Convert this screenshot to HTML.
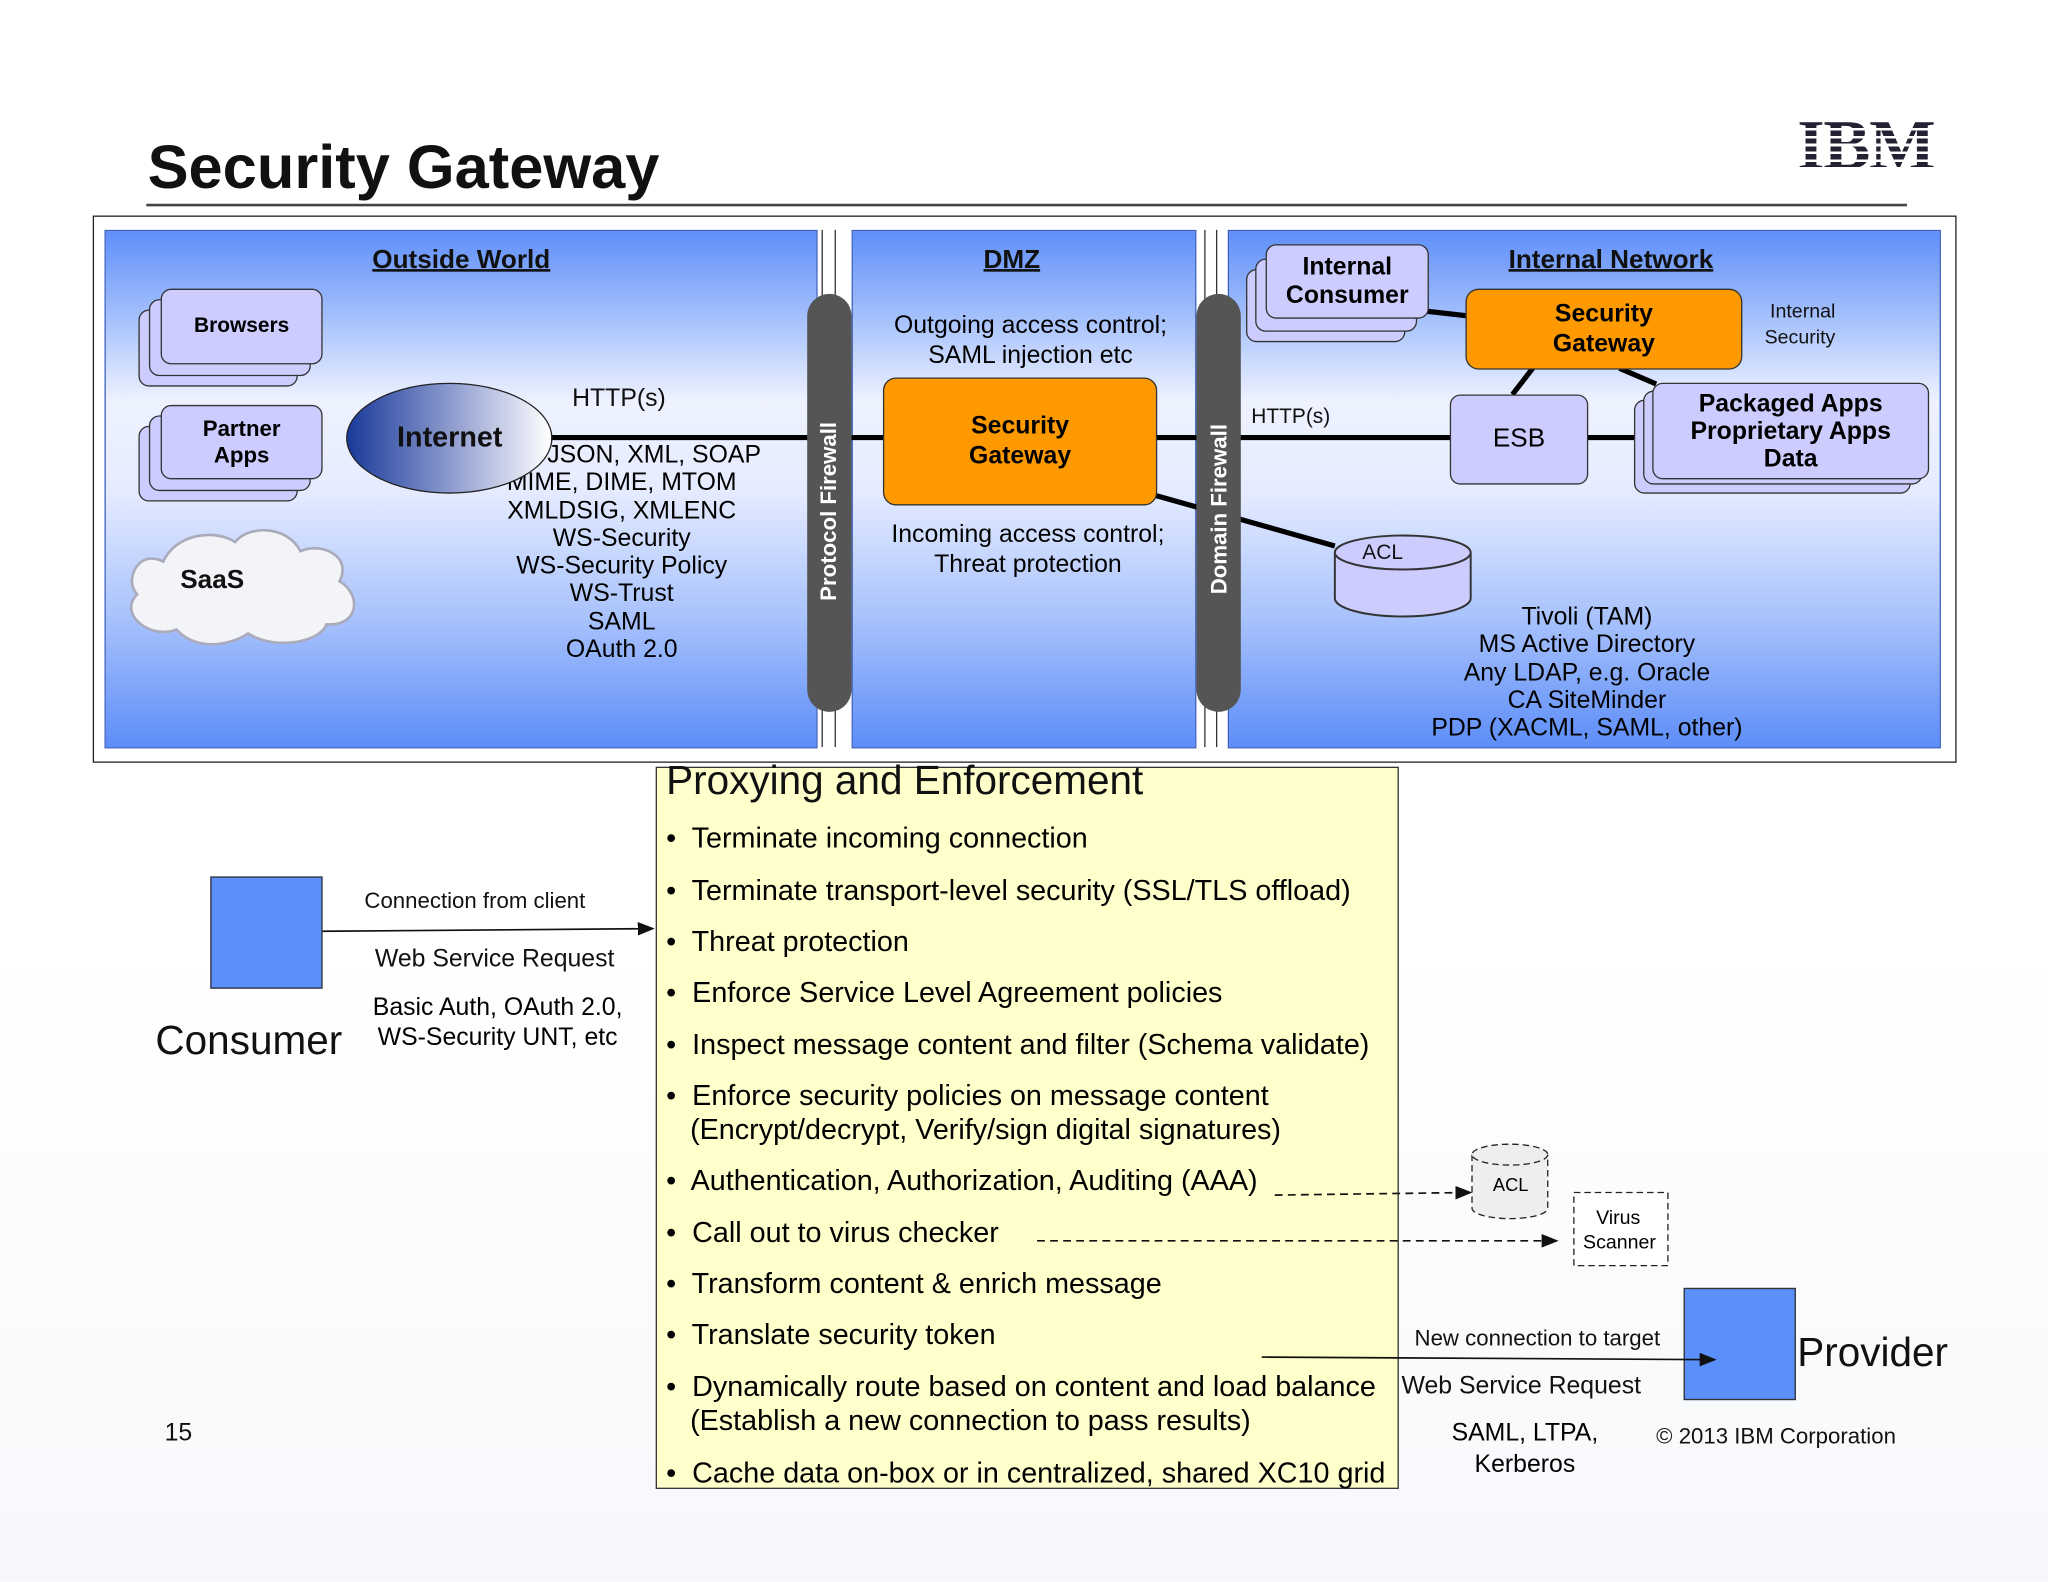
<!DOCTYPE html>
<html><head><meta charset="utf-8"><style>
html,body{margin:0;padding:0;}
body{width:2048px;height:1582px;overflow:hidden;background:#fff;font-family:"Liberation Sans",sans-serif;}
#s{position:absolute;left:0;top:0;width:1568px;height:1211px;transform:scale(1.30612);transform-origin:0 0;background:linear-gradient(180deg,#fff 0%,#fff 60%,#f7f8fb 100%);}
.a{position:absolute;}
.t{position:absolute;white-space:nowrap;color:#111;}
.panel{position:absolute;background:linear-gradient(180deg,#5f8ff9 0%,#aac4fc 18%,#eef2ff 33%,#e6ecff 50%,#a8c2fc 75%,#5d8df8 100%);border:1px solid #3a5fc0;}
.box{position:absolute;background:#ccccff;border:1.5px solid #333;border-radius:8px;}
.or{position:absolute;background:#ff9900;border:1.5px solid #333;border-radius:10px;font-weight:bold;text-align:center;font-size:19px;line-height:23px;display:flex;align-items:center;justify-content:center;}
.fw{position:absolute;background:#555;border-radius:17px;width:34px;}
.fwt{position:absolute;color:#fff;font-weight:bold;font-size:17px;white-space:nowrap;transform:rotate(-90deg);transform-origin:0 0;}
.u{text-decoration:underline;font-weight:bold;font-size:20px;}
.b{font-size:22px;line-height:26px;}
</style></head><body><div id="s">
<div class="t" style="left:113px;top:100px;font-size:47px;font-weight:bold;">Security Gateway</div>
<div class="a" style="left:112px;top:156px;width:1348px;height:1.5px;background:#444;"></div>
<div class="t" style="left:1376px;top:80px;font-size:54px;font-weight:bold;font-family:'Liberation Serif',serif;color:#223;letter-spacing:-1px;">IBM</div>
<div class="a" style="left:1374px;top:94px;width:108px;height:40px;background:repeating-linear-gradient(180deg,transparent 0 4px,#fff 4px 6px);"></div>

<div class="a" style="left:71px;top:165px;width:1425px;height:417px;border:1.5px solid #222;"></div>
<div class="panel" style="left:80px;top:176px;width:544px;height:395px;"></div>
<div class="panel" style="left:652px;top:176px;width:262px;height:395px;"></div>
<div class="panel" style="left:940px;top:176px;width:544px;height:395px;"></div>
<div class="a" style="left:629px;top:176px;width:1px;height:396px;background:#333;"></div>
<div class="a" style="left:639px;top:176px;width:1px;height:396px;background:#333;"></div>
<div class="a" style="left:922px;top:176px;width:1px;height:396px;background:#333;"></div>
<div class="a" style="left:931px;top:176px;width:1px;height:396px;background:#333;"></div>

<svg class="a" style="left:0;top:0" width="1568" height="1211">
<line x1="420" y1="335" x2="1260" y2="335" stroke="#000" stroke-width="4"/>
<line x1="880" y1="378" x2="1022" y2="418" stroke="#000" stroke-width="4"/>
<line x1="1090" y1="238" x2="1125" y2="242" stroke="#000" stroke-width="4"/>
<line x1="1175" y1="280" x2="1158" y2="302" stroke="#000" stroke-width="4"/>
<line x1="1240" y1="282" x2="1268" y2="294" stroke="#000" stroke-width="4"/>
</svg>

<div class="t u" style="left:285px;top:188px;">Outside World</div>
<div class="t u" style="left:753px;top:188px;">DMZ</div>
<div class="t u" style="left:1155px;top:188px;">Internal Network</div>

<div class="box" style="left:106px;top:237px;width:120px;height:57px;"></div>
<div class="box" style="left:114px;top:229px;width:122px;height:57px;"></div>
<div class="box" style="left:123px;top:221px;width:122px;height:56px;font-weight:bold;font-size:16px;display:flex;align-items:center;justify-content:center;">Browsers</div>
<div class="box" style="left:106px;top:326px;width:120px;height:56px;"></div>
<div class="box" style="left:114px;top:318px;width:122px;height:56px;"></div>
<div class="box" style="left:123px;top:310px;width:122px;height:55px;font-weight:bold;font-size:17px;line-height:20px;text-align:center;display:flex;align-items:center;justify-content:center;">Partner<br>Apps</div>

<svg class="a" style="left:95px;top:400px" width="185" height="100"><path d="M30 30 C10 20 0 45 10 55 C-5 70 20 90 40 82 C55 98 80 95 95 85 C115 98 150 92 155 78 C180 80 182 55 165 45 C175 25 150 15 135 22 C125 2 95 2 85 15 C70 5 40 8 30 30Z" fill="#f2f4f8" stroke="#aab" stroke-width="2"/></svg>
<div class="t" style="left:138px;top:433px;font-weight:bold;font-size:20px;">SaaS</div>

<div class="t" style="left:438px;top:295px;font-size:19px;">HTTP(s)</div>
<div class="a" style="left:356px;top:338px;width:240px;text-align:center;font-size:19px;line-height:21.3px;">XML, JSON, XML, SOAP<br>MIME, DIME, MTOM<br>XMLDSIG, XMLENC<br>WS-Security<br>WS-Security Policy<br>WS-Trust<br>SAML<br>OAuth 2.0</div>
<div class="a" style="left:265px;top:293px;width:156px;height:83px;border-radius:50%;border:1.5px solid #222;background:linear-gradient(90deg,#1a3a9a 0%,#8090c8 45%,#fff 100%);"></div>
<div class="t" style="left:304px;top:322px;font-weight:bold;font-size:22px;">Internet</div>

<div class="fw" style="left:618px;top:225px;height:320px;"></div>
<div class="fwt" style="left:625px;top:460px;">Protocol Firewall</div>
<div class="fw" style="left:916px;top:225px;height:320px;"></div>
<div class="fwt" style="left:924px;top:455px;">Domain Firewall</div>

<div class="a" style="left:660px;top:238px;width:258px;text-align:center;font-size:19px;line-height:23px;">Outgoing access control;<br>SAML injection etc</div>
<div class="or" style="left:676px;top:289px;width:208px;height:96px;">Security<br>Gateway</div>
<div class="a" style="left:660px;top:398px;width:254px;text-align:center;font-size:19px;line-height:23px;">Incoming access control;<br>Threat protection</div>

<div class="t" style="left:958px;top:311px;font-size:16px;">HTTP(s)</div>
<div class="box" style="left:954px;top:206px;width:120px;height:54px;"></div>
<div class="box" style="left:961px;top:198px;width:122px;height:54px;"></div>
<div class="box" style="left:969px;top:187px;width:123px;height:55px;font-weight:bold;font-size:19px;line-height:22px;text-align:center;display:flex;align-items:center;justify-content:center;">Internal<br>Consumer</div>
<div class="or" style="left:1122px;top:221px;width:210px;height:60px;">Security<br>Gateway</div>
<div class="t" style="left:1351px;top:229px;font-size:15px;line-height:20px;">&nbsp;Internal<br>Security</div>
<div class="box" style="left:1110px;top:302px;width:104px;height:67px;font-size:20px;display:flex;align-items:center;justify-content:center;">ESB</div>
<div class="box" style="left:1251px;top:306px;width:210px;height:70px;"></div>
<div class="box" style="left:1258px;top:299px;width:212px;height:70px;"></div>
<div class="box" style="left:1265px;top:293px;width:210px;height:72px;font-weight:bold;font-size:19px;line-height:21px;text-align:center;display:flex;align-items:center;justify-content:center;">Packaged Apps<br>Proprietary Apps<br>Data</div>

<svg class="a" style="left:1020px;top:408px" width="110" height="70"><path d="M2 15 V50 A52 14 0 0 0 106 50 V15" fill="#ccccff" stroke="#333" stroke-width="1.5"/><ellipse cx="54" cy="15" rx="52" ry="13" fill="#ccccff" stroke="#333" stroke-width="1.5"/></svg>
<div class="t" style="left:1043px;top:415px;font-size:16px;">ACL</div>
<div class="a" style="left:1085px;top:462px;width:260px;text-align:center;font-size:19px;line-height:21.3px;">Tivoli (TAM)<br>MS Active Directory<br>Any LDAP, e.g. Oracle<br>CA SiteMinder<br>PDP (XACML, SAML, other)</div>

<div class="a" style="left:502px;top:587px;width:567px;height:551px;background:#ffffcc;border:1.5px solid #333;"></div>
<div class="t" style="left:510px;top:580px;font-size:31px;">Proxying and Enforcement</div>
<div class="a b" style="left:510px;top:629px;width:560px;">
<div style="position:absolute;top:0">•&nbsp; Terminate incoming connection</div>
<div style="position:absolute;top:40px">•&nbsp; Terminate transport-level security (SSL/TLS offload)</div>
<div style="position:absolute;top:79px">•&nbsp; Threat protection</div>
<div style="position:absolute;top:118px">•&nbsp; Enforce Service Level Agreement policies</div>
<div style="position:absolute;top:158px">•&nbsp; Inspect message content and filter (Schema validate)</div>
<div style="position:absolute;top:197px">•&nbsp; Enforce security policies on message content<br>&nbsp;&nbsp;&nbsp;(Encrypt/decrypt, Verify/sign digital signatures)</div>
<div style="position:absolute;top:262px">•&nbsp; Authentication, Authorization, Auditing (AAA)</div>
<div style="position:absolute;top:302px">•&nbsp; Call out to virus checker</div>
<div style="position:absolute;top:341px">•&nbsp; Transform content &amp; enrich message</div>
<div style="position:absolute;top:380px">•&nbsp; Translate security token</div>
<div style="position:absolute;top:420px">•&nbsp; Dynamically route based on content and load balance<br>&nbsp;&nbsp;&nbsp;(Establish a new connection to pass results)</div>
<div style="position:absolute;top:486px">•&nbsp; Cache data on-box or in centralized, shared XC10 grid</div>
</div>

<div class="a" style="left:161px;top:671px;width:84px;height:84px;background:#5b8ff9;border:1.5px solid #333;"></div>
<div class="t" style="left:119px;top:779px;font-size:31px;">Consumer</div>
<div class="t" style="left:279px;top:680px;font-size:17px;">Connection from client</div>
<div class="t" style="left:287px;top:724px;font-size:19px;">Web Service Request</div>
<div class="a" style="left:276px;top:760px;width:210px;text-align:center;font-size:19px;line-height:23px;">Basic Auth, OAuth 2.0,<br>WS-Security UNT, etc</div>

<div class="a" style="left:1289px;top:986px;width:84px;height:84px;background:#5b8ff9;border:1.5px solid #333;"></div>
<div class="t" style="left:1376px;top:1018px;font-size:31px;">Provider</div>
<div class="t" style="left:1083px;top:1015px;font-size:17px;">New connection to target</div>
<div class="t" style="left:1073px;top:1051px;font-size:19px;">Web Service Request</div>
<div class="a" style="left:1090px;top:1086px;width:155px;text-align:center;font-size:19px;line-height:24px;">SAML, LTPA,<br>Kerberos</div>
<div class="t" style="left:1268px;top:1090px;font-size:17px;">© 2013 IBM Corporation</div>
<div class="t" style="left:126px;top:1087px;font-size:19px;">15</div>

<svg class="a" style="left:0;top:0" width="1568" height="1211">
<defs><marker id="ar" markerWidth="10" markerHeight="8" refX="9" refY="4" orient="auto"><path d="M0 0L10 4L0 8Z" fill="#111"/></marker></defs>
<line x1="247" y1="713" x2="500" y2="711" stroke="#111" stroke-width="1.3" marker-end="url(#ar)"/>
<line x1="966" y1="1039" x2="1313" y2="1041" stroke="#111" stroke-width="1.3" marker-end="url(#ar)"/>
<line x1="976" y1="915" x2="1126" y2="913" stroke="#111" stroke-width="1.3" stroke-dasharray="6,4" marker-end="url(#ar)"/>
<line x1="794" y1="950" x2="1192" y2="950" stroke="#111" stroke-width="1.3" stroke-dasharray="6,4" marker-end="url(#ar)"/>
<path d="M1127 884 V925 A29 8 0 0 0 1185 925 V884" fill="#eee" stroke="#222" stroke-dasharray="5,3"/>
<ellipse cx="1156" cy="884" rx="29" ry="8" fill="#eee" stroke="#222" stroke-dasharray="5,3"/>
<text x="1143" y="912" font-size="14" font-family="Liberation Sans">ACL</text>
<rect x="1205" y="913" width="72" height="56" fill="#fff" stroke="#222" stroke-dasharray="5,3"/>
<text x="1222" y="937" font-size="15" font-family="Liberation Sans">Virus</text>
<text x="1212" y="956" font-size="15" font-family="Liberation Sans">Scanner</text>
</svg>
</div></body></html>
